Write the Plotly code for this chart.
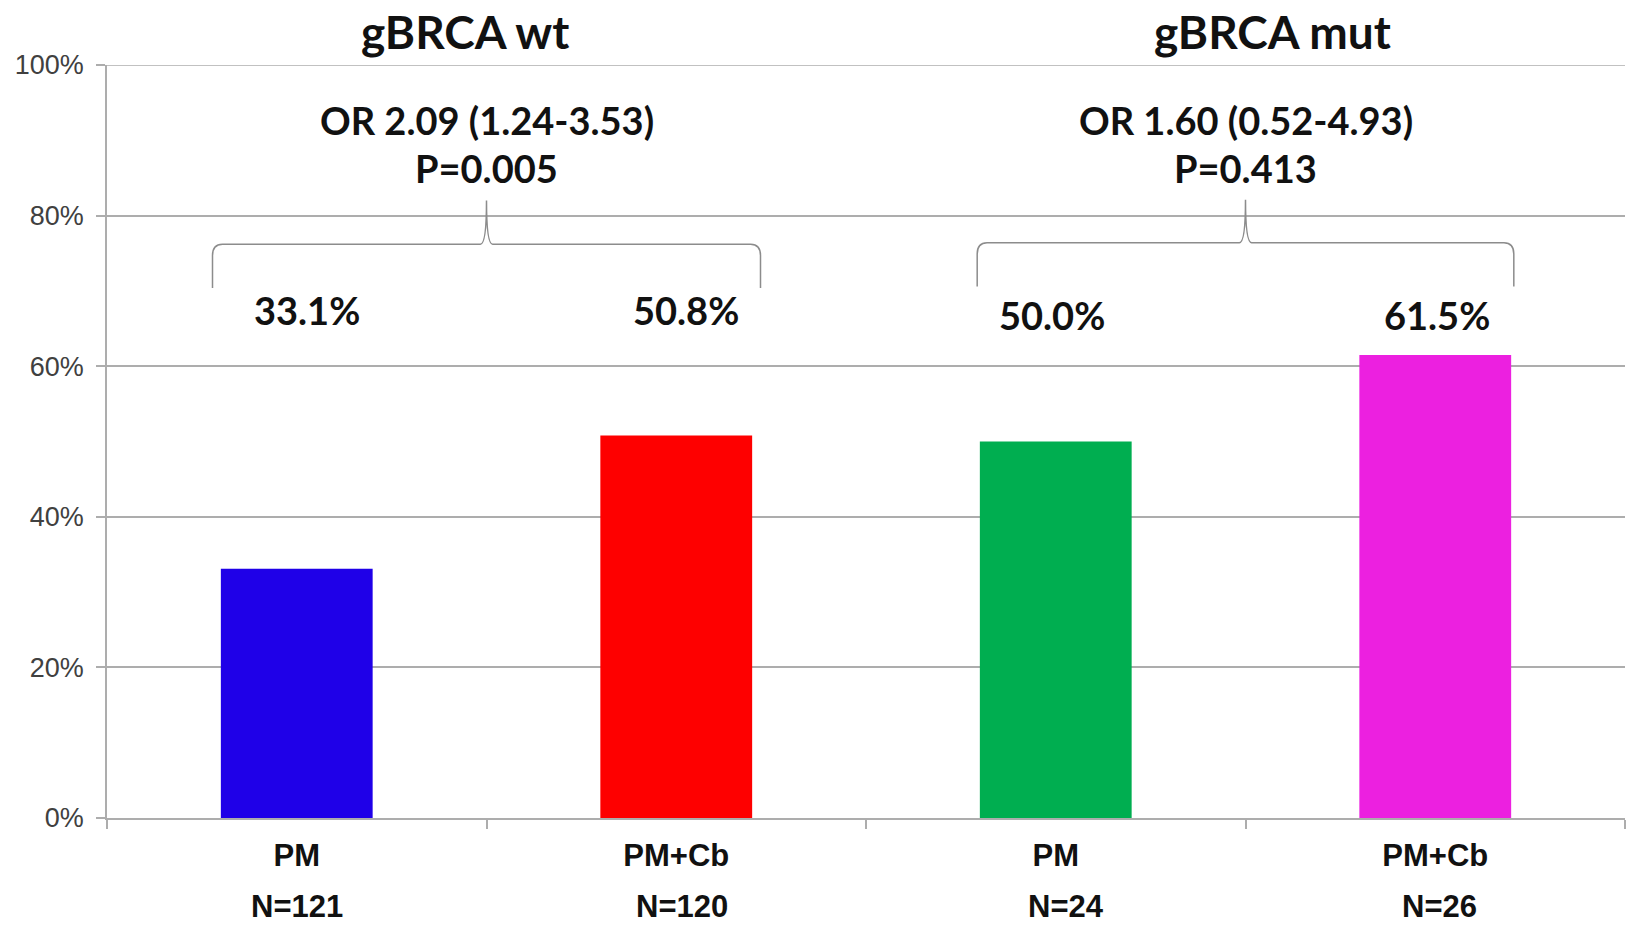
import plotly.graph_objects as go

# ---- data ----
groups = ["gBRCA wt", "gBRCA wt", "gBRCA mut", "gBRCA mut"]
treatments = ["PM", "PM+Cb", "PM", "PM+Cb"]
n_patients = [121, 120, 24, 26]
response_pct = [33.1, 50.8, 50.0, 61.5]
group_titles = ["gBRCA wt", "gBRCA mut"]
odds_ratio_labels = ["OR 2.09 (1.24-3.53)", "OR 1.60 (0.52-4.93)"]
p_value_labels = ["P=0.005", "P=0.413"]
y_ticks = [0, 20, 40, 60, 80, 100]

# ---- style ----
bar_colors = ["#1F00E8", "#FE0000", "#00AE50", "#EC20E0"]
grid_color = "#ADADAD"
brace_color = "#8C8C8C"
calibri_like = "Lato"
arial_like = "Liberation Sans, Arial"

categories = [f"{g} | {t}" for g, t in zip(groups, treatments)]

fig = go.Figure()
fig.add_trace(go.Bar(
    x=categories,
    y=response_pct,
    marker=dict(color=bar_colors, line=dict(width=0)),
    hoverinfo="skip",
    showlegend=False,
))

annotations = []

# value labels (fixed row above the bars, as in the original)
value_x_offsets = [0.026, 0.026, -0.009, 0.005]
value_rows = [67.4, 67.4, 66.8, 66.8]
for i, v in enumerate(response_pct):
    annotations.append(dict(
        x=i + value_x_offsets[i], y=value_rows[i], xref="x", yref="y",
        text=f"{v:.1f}%", showarrow=False, xanchor="center", yanchor="middle",
        font=dict(family=calibri_like, size=38, color="#111111", weight="bold"),
    ))

# N labels under the category labels
n_x_offsets = [0.0, 0.015, 0.026, 0.01]
for i, n in enumerate(n_patients):
    annotations.append(dict(
        x=i + n_x_offsets[i], y=-0.118, xref="x", yref="paper",
        text=f"N={n}", showarrow=False, xanchor="center", yanchor="middle",
        font=dict(family=arial_like, size=31, color="#111111", weight="bold"),
    ))

# group titles, odds ratios and p-values
title_x = [0.443, 2.571]
group_centers = [0.5, 2.5]
for j in range(2):
    annotations.append(dict(
        x=title_x[j], y=1.045, xref="x", yref="paper",
        text=group_titles[j], showarrow=False, xanchor="center", yanchor="middle",
        borderpad=0,
        font=dict(family=calibri_like, size=46, color="#111111", weight="bold"),
    ))
    annotations.append(dict(
        x=group_centers[j], y=92.7, xref="x", yref="y",
        text=odds_ratio_labels[j], showarrow=False, xanchor="center", yanchor="middle",
        font=dict(family=calibri_like, size=38, color="#111111", weight="bold"),
    ))
    annotations.append(dict(
        x=group_centers[j], y=86.3, xref="x", yref="y",
        text=p_value_labels[j], showarrow=False, xanchor="center", yanchor="middle",
        font=dict(family=calibri_like, size=38, color="#111111", weight="bold"),
    ))


def brace_path(c, hw, y_end, y_bar, y_peak, rx=0.026, ry=1.5, rc=0.016):
    xl, xr = c - hw, c + hw
    return (f"M {xl},{y_end} L {xl},{y_bar - ry} Q {xl},{y_bar} {xl + rx},{y_bar} "
            f"L {c - rc},{y_bar} Q {c},{y_bar} {c},{y_peak} "
            f"Q {c},{y_bar} {c + rc},{y_bar} "
            f"L {xr - rx},{y_bar} Q {xr},{y_bar} {xr},{y_bar - ry} L {xr},{y_end}")


shapes = [
    dict(type="path", xref="x", yref="y",
         path=brace_path(0.5, 0.722, 70.4, 76.2, 82.0),
         line=dict(color=brace_color, width=1.5)),
    dict(type="path", xref="x", yref="y",
         path=brace_path(2.5, 0.707, 70.6, 76.4, 82.1),
         line=dict(color=brace_color, width=1.5)),
    # top gridline (plotly skips the grid line lying on the plot edge)
    dict(type="line", xref="paper", yref="y", x0=0, x1=1, y0=y_ticks[-1], y1=y_ticks[-1],
         layer="below", line=dict(color=grid_color, width=1.5)),
]

fig.update_layout(
    width=1633, height=930,
    margin=dict(l=107, r=8, t=64.5, b=111.5, pad=0),
    paper_bgcolor="white", plot_bgcolor="white",
    bargap=0.6,
    annotations=annotations,
    shapes=shapes,
    xaxis=dict(
        type="category",
        tickmode="array", tickvals=categories, ticktext=treatments,
        tickson="boundaries", ticks="outside", ticklen=9, tickwidth=1.5,
        tickcolor=grid_color,
        showline=True, linecolor=grid_color, linewidth=1.5,
        showgrid=False, zeroline=False,
        tickfont=dict(family=arial_like, size=31, color="#111111", weight="bold"),
        ticklabelstandoff=9,
        range=[-0.5, 3.5],
    ),
    yaxis=dict(
        range=[0, 100], tickmode="array", tickvals=y_ticks,
        ticktext=[f"{v}%" for v in y_ticks],
        ticks="outside", ticklen=9, tickwidth=1.5, tickcolor=grid_color,
        showline=True, linecolor=grid_color, linewidth=1.5,
        showgrid=True, gridcolor=grid_color, gridwidth=1.5,
        zeroline=False,
        tickfont=dict(family=arial_like, size=27, color="#404040"),
        ticklabelstandoff=7,
    ),
)

# let the figure fill the whole window (no default page margin), no modebar
fig.write_html(
    "out.html",
    config={"displayModeBar": False},
    post_script="document.body.style.margin='0';document.body.style.overflow='hidden';",
)
